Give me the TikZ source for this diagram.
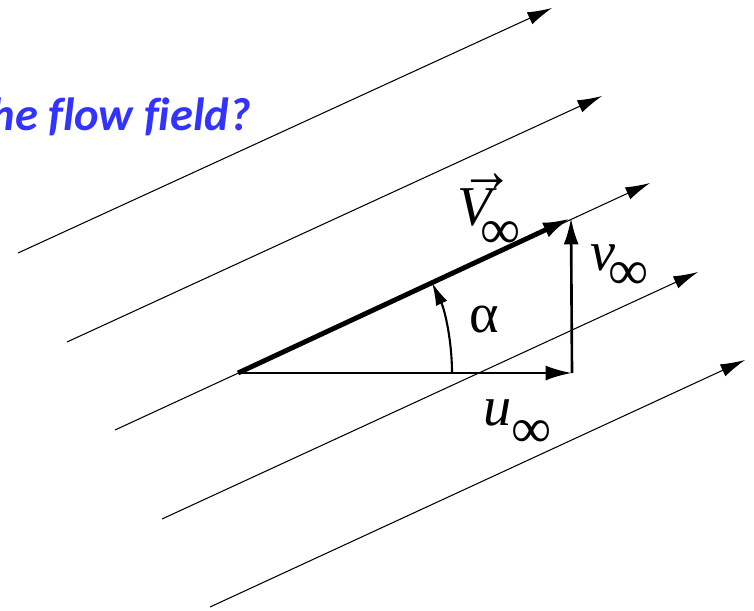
\documentclass[tikz,border=0pt]{standalone}
\usepackage{amsmath, amssymb}
\usepackage{graphicx}
\usepackage{xcolor}
\usepackage[no-math]{fontspec}
\newfontfamily\calibri[Ligatures=CommonOff]{Carlito}
\newfontfamily\timesf{Liberation Serif}
\usepackage{tikz}
\usetikzlibrary{arrows.meta, positioning, calc}
\definecolor{askblue}{RGB}{51,51,255}

\begin{document}
\begin{tikzpicture}[x=0.02cm, y=0.02cm,
    flow/.style={line width=0.6pt, -{Latex[length=14pt, width=7.5pt]}},
    comp/.style={line width=1.5pt, -{Latex[length=15pt, width=8.5pt]}},
    lbl/.style={inner sep=0pt, font=\timesf\fontsize{32}{36}\selectfont}]
    \useasboundingbox (0,0) rectangle (754,610);

    % 问题文字
    \node[anchor=base east, text=askblue, font=\calibri\bfseries\itshape\fontsize{26.5}{30}\selectfont] (ask) at (257,480) {he flow field?};

    % 流线
    \coordinate (a1) at (18,357);
    \coordinate (b1) at (552,602);
    \coordinate (a2) at (67,268);
    \coordinate (b2) at (602,514);
    \coordinate (a3) at (115,180);
    \coordinate (b3) at (650,427);
    \coordinate (a4) at (162,91);
    \coordinate (b4) at (698,338);
    \coordinate (a5) at (210,3);
    \coordinate (b5) at (745,250);
    \draw[flow] (a1) -- (b1);
    \draw[flow] (a2) -- (b2);
    \draw[flow] (a3) -- (b3);
    \draw[flow] (a4) -- (b4);
    \draw[flow] (a5) -- (b5);

    % 速度三角形
    \coordinate (O) at (238,237);
    \coordinate (U) at (572,237);
    \coordinate (T) at (571,392);
    \draw[comp] (O) -- (U);
    \draw[comp] (U) -- (T);
    \draw[line width=2.8pt, -{Latex[length=16pt, width=9pt]}] (O) -- (T);

    % 攻角
    \draw[line width=1.2pt, -{Latex[length=13pt, width=7pt]}] ([shift={(0:214)}]O) arc[start angle=0, end angle=25, radius=214];

    % 标注
    \node[lbl, anchor=base west] (Vlab) at (457,385) {\rlap{\kern0.05em\raisebox{0.6em}{\scalebox{0.95}[1.1]{\bfseries →}}}\textit{V}\kern-0.3em\raisebox{-0.42em}{∞}};
    \node[lbl] (alab) at (484,290) {α};
    \node[lbl, anchor=base west] (ulab) at (483,185) {\itshape u\upshape\raisebox{-0.4em}{∞}};
    \node[lbl, anchor=base west] (vlab) at (590,340) {\itshape v\upshape\kern-0.12em\raisebox{-0.34em}{∞}};
\end{tikzpicture}
\end{document}
